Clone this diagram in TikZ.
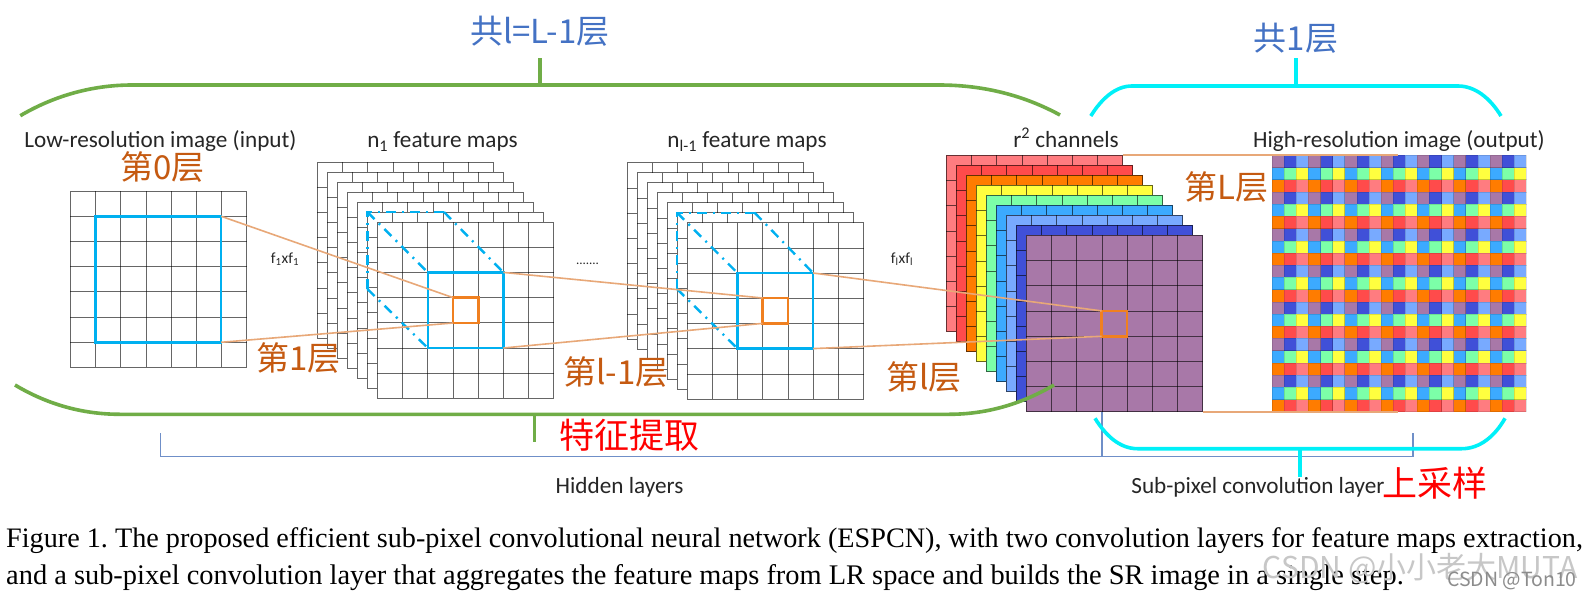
\documentclass[tikz,border=0pt]{standalone}
\usepackage{fontspec}
\setmainfont{Carlito}
\newfontfamily\cjk{Noto Sans CJK SC}
\newfontfamily\capfont{Liberation Serif}
\usetikzlibrary{calc}
\definecolor{cgreen}{HTML}{70AD47}
\definecolor{ccyan}{HTML}{00F0F8}
\definecolor{cblue}{HTML}{00B0F0}
\definecolor{corange}{HTML}{F08020}
\definecolor{ctan}{HTML}{E8A878}
\definecolor{cbrown}{HTML}{C55A11}
\definecolor{ctitle}{HTML}{4472C4}
\definecolor{cthin}{HTML}{6F8FC8}
\definecolor{c00}{HTML}{A878A8}
\definecolor{c01}{HTML}{4050D8}
\definecolor{c02}{HTML}{78AAFF}
\definecolor{c10}{HTML}{3CAAFF}
\definecolor{c11}{HTML}{7CFFA8}
\definecolor{c12}{HTML}{FFFF3F}
\definecolor{c20}{HTML}{FF7C00}
\definecolor{c21}{HTML}{FF4B4B}
\definecolor{c22}{HTML}{FF7C80}
\newcommand{\fsz}[1]{\fontsize{#1}{#1}\selectfont}
\newcommand{\gridlayer}[4]{%
  \node[gridsq,fill=#4,anchor=north west] (#1) at (#2,#3) {};
  \begin{scope}[shift={(#2,#3)}]
    \foreach \k in {1,...,6} {
      \draw[gridline] (\k*25.2,0) -- (\k*25.2,176.4);
      \draw[gridline] (0,\k*25.2) -- (176.4,\k*25.2);
    }
    \draw[gridline] (0,0) rectangle (176.4,176.4);
  \end{scope}}
\tikzset{
  gridsq/.style={minimum width=176.4pt,minimum height=176.4pt,inner sep=0pt,outer sep=0pt},
  gridline/.style={draw=black,draw opacity=.6,line width=.8pt},
  bluesq/.style={draw=cblue,line width=2.4pt,minimum width=75.6pt,minimum height=75.6pt,inner sep=0pt,outer sep=0pt,anchor=north west},
  orangesq/.style={draw=corange,line width=2.4pt,minimum width=25.4pt,minimum height=25.4pt,inner sep=0pt,outer sep=0pt,anchor=north west},
  link/.style={draw=ctan,line width=1.6pt},
  dashd/.style={draw=cblue,line width=2.4pt,dash pattern=on 10pt off 6pt on 2pt off 6pt},
  greenb/.style={draw=cgreen,line width=3.6pt},
  cyanb/.style={draw=ccyan,line width=3.6pt},
  thinb/.style={draw=cthin,line width=1.1pt},
  lbl/.style={text=black!85,inner sep=0pt,anchor=base,font=\fsz{23.2}},
  small/.style={text=black!85,inner sep=0pt,anchor=base,font=\fsz{15.5}},
  ctxt/.style={text=cbrown,inner sep=0pt,font=\cjk\fsz{33}},
  ttxt/.style={text=ctitle,inner sep=0pt,font=\cjk\fsz{33}},
  rtxt/.style={text=red,inner sep=0pt,font=\cjk\fsz{35}},
  captxt/.style={text=black,inner sep=0pt,anchor=west},
}
\frenchspacing
\begin{document}
\begin{tikzpicture}[x=1pt,y=-1pt]
\useasboundingbox[fill=white] (0,0) rectangle (1591,597);

% input
\gridlayer{inp}{70.3}{191}{white}
\node[minimum width=125.8pt,minimum height=126pt,draw=cblue,line width=2.4pt,inner sep=0pt,outer sep=0pt,anchor=north west] (inpblue) at (95.4,216.3) {};

% n1 stack
\foreach \i in {0,...,6} {
  \pgfmathsetmacro{\xx}{317.4+10*\i}
  \pgfmathsetmacro{\yy}{162+10*\i}
  \gridlayer{na\i}{\xx}{\yy}{white}
}
\node[bluesq] (nablue) at (427.8,272.4) {};
\node[orangesq] (naor) at (452.9,297.6) {};

% n_{l-1} stack
\foreach \i in {0,...,6} {
  \pgfmathsetmacro{\xx}{627.1+10*\i}
  \pgfmathsetmacro{\yy}{162.7+10*\i}
  \gridlayer{nb\i}{\xx}{\yy}{white}
}
\node[bluesq] (nbblue) at (737.5,273) {};
\node[orangesq] (nbor) at (762.5,298) {};

% r^2 stack
\foreach \i/\c in {0/c22,1/c21,2/c20,3/c12,4/c11,5/c10,6/c02,7/c01,8/c00} {
  \pgfmathsetmacro{\xx}{946.4+10*\i}
  \pgfmathsetmacro{\yy}{155.3+10*\i}
  \gridlayer{rr\i}{\xx}{\yy}{\c}
}
\node[orangesq] (rror) at (1101.6,310.9) {};

% output
\node[minimum width=254.1pt,minimum height=256.4pt,inner sep=0pt,outer sep=0pt,anchor=north west] (outp) at (1272.1,155.3) {};
\begin{scope}[shift={(1272.1,155.3)}]
  \foreach \j in {0,...,20} {
    \foreach \i in {0,...,20} {
      \pgfmathtruncatemacro{\rr}{mod(\j,3)}
      \pgfmathtruncatemacro{\cc}{mod(\i,3)}
      \fill[c\rr\cc,draw=black,draw opacity=.12,line width=.5pt] (\i*12.1,\j*12.21) rectangle ++(12.1,12.21);
    }
  }
\end{scope}

% dash-dot frustum
\coordinate (d1) at (367.4,212);
\coordinate (d2) at (444,212);
\coordinate (d3) at (367.4,289);
\draw[dashd] (d3) -- (d1) -- (d2);
\draw[dashd] (d1) -- (nablue.north west);
\draw[dashd] (d2) -- (nablue.north east);
\draw[dashd] (d3) -- (nablue.south west);
\coordinate (e1) at (677.1,212.7);
\coordinate (e2) at (754.6,212.7);
\coordinate (e3) at (677.1,289);
\draw[dashd] (e3) -- (e1) -- (e2);
\draw[dashd] (e1) -- (nbblue.north west);
\draw[dashd] (e2) -- (nbblue.north east);
\draw[dashd] (e3) -- (nbblue.south west);

% links
\draw[link] (inpblue.north east) -- (naor.north west);
\draw[link] (inpblue.south east) -- (naor.south west);
\draw[link] (nablue.north east) -- (nbor.north west);
\draw[link] (nablue.south east) -- (nbor.south west);
\draw[link] (nbblue.north east) -- (rror.north west);
\draw[link] (nbblue.south east) -- (rror.south west);
\coordinate (t1) at (1397.7,155.3);
\coordinate (t2) at (1397.7,411.7);
\draw[link,line width=2pt] (rr0.north east) -- (t1);
\draw[link,line width=2pt] (rr8.south east) -- (t2);

% hidden-layers bracket
\coordinate (h1) at (160.3,433);
\coordinate (h2) at (160.3,456.7);
\coordinate (h3) at (1102,456.7);
\coordinate (h4) at (1102,411.7);
\coordinate (h5) at (1413,456.7);
\coordinate (h6) at (1413,432.7);
\draw[thinb] (h1) -- (h2) -- (h5) -- (h6);
\draw[thinb] (h3) -- (h4);

% braces
\coordinate (g1) at (20.3,115.7);
\coordinate (g2) at (132,85);
\coordinate (g3) at (939,85);
\coordinate (g4) at (1060,115);
\coordinate (g5) at (540,85);
\coordinate (g6) at (540,58);
\draw[greenb] (g1) .. controls (52,97) and (90,85) .. (g2) -- (g3) .. controls (985,85) and (1025,96) .. (g4);
\draw[greenb] (g5) -- (g6);
\coordinate (g7) at (15,385);
\coordinate (g8) at (120,414.3);
\coordinate (g9) at (949,414.3);
\coordinate (g10) at (1054,385);
\coordinate (g11) at (534.6,414.3);
\coordinate (g12) at (534.6,442);
\draw[greenb] (g7) .. controls (45,403) and (80,414.3) .. (g8) -- (g9) .. controls (990,414.3) and (1025,402) .. (g10);
\draw[greenb] (g11) -- (g12);

\coordinate (c1) at (1090.8,116);
\coordinate (c2) at (1132,86);
\coordinate (c3) at (1458,86);
\coordinate (c4) at (1501,116);
\coordinate (c5) at (1296,86);
\coordinate (c6) at (1296,58);
\draw[cyanb] (c1) .. controls (1102,98) and (1116,86) .. (c2) -- (c3) .. controls (1475,86) and (1490,98) .. (c4);
\draw[cyanb] (c5) -- (c6);
\coordinate (c7) at (1095,418.3);
\coordinate (c8) at (1137.6,448.7);
\coordinate (c9) at (1461.7,448.7);
\coordinate (c10) at (1505,418.3);
\coordinate (c11) at (1300,448.7);
\coordinate (c12) at (1300,476.7);
\draw[cyanb] (c7) .. controls (1106,436) and (1120,448.7) .. (c8) -- (c9) .. controls (1480,448.7) and (1495,436) .. (c10);
\draw[cyanb] (c11) -- (c12);

% labels
\node[ttxt] (tl1) at (540,31.5) {共l=L-1层};
\node[ttxt] (tl2) at (1296,38) {共1层};
\node[lbl] (l1) at (160.5,147.5) {Low-resolution image (input)};
\node[lbl] (l2) at (442.5,147.5) {n\textsubscript{1} feature maps};
\node[lbl] (l3) at (747,147.5) {n\textsubscript{l-1} feature maps};
\node[lbl] (l4) at (1066,147.5) {r\textsuperscript{2} channels};
\node[lbl] (l5) at (1399,147.5) {High-resolution image (output)};
\node[small] (s1) at (285,263) {f\textsubscript{1}xf\textsubscript{1}};
\node[small] (s2) at (902,263) {f\textsubscript{l}xf\textsubscript{l}};
\node[small,font=\fsz{13}] (s3) at (587.5,264) {.......};
\node[ctxt] (o1) at (162.5,166.7) {第0层};
\node[ctxt] (o2) at (298.5,358) {第1层};
\node[ctxt] (o3) at (616,372) {第l-1层};
\node[ctxt] (o4) at (924,377) {第l层};
\node[ctxt] (o5) at (1226.5,187) {第L层};
\node[rtxt] (r1) at (629,435) {特征提取};
\node[rtxt] (r2) at (1435,483) {上采样};
\node[lbl] (l6) at (619.5,493.3) {Hidden layers};
\node[lbl] (l7) at (1258,493.3) {Sub-pixel convolution layer};

% caption
\node[captxt,font=\capfont\fsz{28.2}] (cap1) at (6,541) {Figure 1. The proposed efficient sub-pixel convolutional neural network (ESPCN), with two convolution layers for feature maps extraction,};
\node[captxt,font=\capfont\fsz{28.4}] (cap2) at (6,578) {and a sub-pixel convolution layer that aggregates the feature maps from LR space and builds the SR image in a single step.};
\node[text=black!22,inner sep=0pt,font=\cjk\fsz{30}] (w1) at (1420,568) {CSDN @小小老大MUTA};
\node[text=black!45,inner sep=0pt,font=\cjk\fsz{19.5}] (w2) at (1512,581) {CSDN @Ton10};
\end{tikzpicture}
\end{document}
